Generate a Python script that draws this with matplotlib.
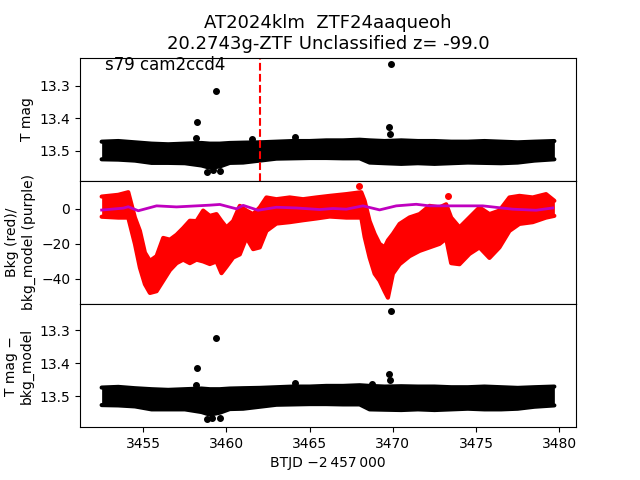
import matplotlib
matplotlib.use("Agg")
import matplotlib.pyplot as plt
import numpy as np

# light curve band (edges), BTJD - 2457000
t_band = [3452.5, 3453.5, 3454.5, 3455.5, 3456.5, 3457.5, 3458.5, 3459.0, 3459.6, 3460.2,
          3461.0, 3462.0, 3463.0, 3464.0, 3465.0, 3466.0, 3467.0, 3468.0, 3468.6, 3469.5,
          3470.5, 3471.5, 3472.5, 3473.5, 3474.5, 3475.5, 3476.5, 3477.5, 3478.5, 3479.7]
mag_hi = [13.472, 13.470, 13.474, 13.478, 13.480, 13.478, 13.476, 13.478, 13.478, 13.476,
          13.475, 13.474, 13.472, 13.470, 13.470, 13.468, 13.468, 13.466, 13.468, 13.470,
          13.468, 13.470, 13.470, 13.472, 13.472, 13.470, 13.472, 13.474, 13.472, 13.470]
mag_lo = [13.526, 13.527, 13.530, 13.537, 13.537, 13.538, 13.545, 13.552, 13.548, 13.537,
          13.536, 13.530, 13.524, 13.523, 13.522, 13.522, 13.523, 13.523, 13.536, 13.538,
          13.540, 13.538, 13.540, 13.538, 13.536, 13.537, 13.538, 13.536, 13.530, 13.526]

# outliers in the top panel
t_out = [3469.88, 3459.38, 3458.24, 3458.14, 3469.78, 3469.82, 3461.56, 3464.14, 3458.82, 3459.20, 3459.60]
mag_out = [13.235, 13.315, 13.411, 13.460, 13.426, 13.448, 13.463, 13.457, 13.564, 13.560, 13.562]

# background-subtracted band
sub_hi = [13.474, 13.472, 13.476, 13.479, 13.481, 13.479, 13.477, 13.479, 13.479, 13.477,
          13.476, 13.475, 13.473, 13.471, 13.471, 13.469, 13.469, 13.467, 13.469, 13.471,
          13.470, 13.471, 13.471, 13.473, 13.473, 13.471, 13.473, 13.475, 13.473, 13.471]
sub_lo = [13.527, 13.528, 13.531, 13.540, 13.540, 13.540, 13.548, 13.556, 13.550, 13.539,
          13.538, 13.532, 13.526, 13.525, 13.524, 13.524, 13.525, 13.525, 13.540, 13.541,
          13.542, 13.540, 13.542, 13.540, 13.538, 13.540, 13.540, 13.538, 13.532, 13.528]
t_sub_out = [3469.90, 3459.38, 3458.24, 3458.14, 3469.78, 3469.82, 3464.14, 3468.75, 3458.82, 3459.15, 3459.60]
sub_out = [13.243, 13.324, 13.416, 13.467, 13.434, 13.452, 13.460, 13.464, 13.570, 13.565, 13.565]

# background flux band
t_bkg = [3452.5, 3453.5, 3454.1, 3454.5, 3454.8, 3455.1, 3455.4, 3455.8, 3456.2, 3456.6,
         3457.0, 3457.4, 3457.8, 3458.2, 3458.6, 3459.0, 3459.4, 3459.7, 3460.0, 3460.4,
         3460.8, 3461.2, 3461.6, 3462.0, 3462.4, 3463.0, 3463.8, 3464.6, 3465.4, 3466.2,
         3467.2, 3468.1, 3468.3, 3468.6, 3468.9, 3469.2, 3469.5, 3469.7, 3470.0, 3470.4,
         3471.0, 3471.6, 3472.2, 3472.8, 3473.2, 3473.5, 3474.0, 3474.6, 3475.2, 3475.8,
         3476.4, 3477.0, 3477.6, 3478.4, 3479.2, 3479.7]
bkg_hi = [7, 8, 9.5, -5, -12.6, -25, -29.7, -27, -16.6, -17.6,
          -14.8, -11, -6.8, -7, -1, -4, -3, -7, -10.6, -7,
          1.7, -1, -3, 0.8, 6.5, 5.5, 6.5, 5.5, 6.5, 7.4,
          8.4, 9.5, 4.6, -7, -14.3, -20, -22, -18, -14.3, -8.6,
          -4.9, -3, 1.7, 0.8, 2.6, -5, -10.6, -4.9, 0.8, -3,
          -1, 6.5, 7.4, 6.5, 8.4, 4.6]
bkg_lo = [-4.5, -5, -5, -20, -33.6, -43, -48, -47, -41, -35,
          -31, -29, -31, -29, -30, -31.5, -30, -36.7, -33, -27.8,
          -26, -16.4, -23, -22, -12.6, -8.4, -7.6, -6.5, -5.5, -4.4,
          -5, -5, -16, -27.8, -37, -41, -47, -50.7, -37, -31.6,
          -27, -24, -22, -20, -17, -31, -31.6, -25.7, -22, -28,
          -22, -12.6, -8.6, -7.6, -5, -4]
t_bkg_out = [3467.95, 3473.3]
bkg_out = [13.1, 7.6]

# background model
t_model = [3452.5, 3453.8, 3454.1, 3454.7, 3455.8, 3457.0, 3459.0, 3459.6, 3460.6, 3461.0,
           3461.9, 3463.0, 3464.2, 3465.6, 3466.4, 3467.2, 3468.2, 3469.2, 3470.2, 3471.4,
           3472.2, 3473.2, 3473.8, 3475.4, 3477.2, 3478.6, 3479.6]
bkg_model = [-0.7, 0.4, 1.2, -1.1, 1.7, 1.1, 2.1, 2.5, 0.0, 2.0,
             -0.8, 0.9, 0.5, -0.4, 0.2, -0.2, 1.7, -0.6, 1.7, 2.6,
             1.7, 1.7, 1.7, 1.7, -0.2, -0.8, 0.5]

t_disc = 3462.0


def band(a, t, hi, lo, c):
    # dense cloud of points drawn as a filled band with rounded edges
    a.fill_between(t, hi, lo, color=c, lw=0)
    a.plot(t, hi, color=c, lw=3, solid_joinstyle='round', solid_capstyle='round')
    a.plot(t, lo, color=c, lw=3, solid_joinstyle='round', solid_capstyle='round')


fig, ax = plt.subplots(3, 1, sharex=True, figsize=(6.4, 4.8))
plt.subplots_adjust(hspace=0)

band(ax[0], t_band, mag_hi, mag_lo, 'k')
ax[0].plot(t_out, mag_out, 'o', color='k', ms=4)
ax[0].axvline(t_disc, color='r', ls='--', lw=1.5)
ax[0].set_ylim(13.592, 13.214)
ax[0].set_yticks([13.3, 13.4, 13.5])
ax[0].set_ylabel("T mag")
ax[0].text(0.05, 0.9, "s79 cam2ccd4", transform=ax[0].transAxes, fontsize=12)
ax[0].set_title("AT2024klm  ZTF24aaqueoh\n20.2743g-ZTF Unclassified z= -99.0", fontsize=13)

band(ax[1], t_bkg, bkg_hi, bkg_lo, 'r')
ax[1].plot(t_bkg_out, bkg_out, 'o', color='r', ms=4)
ax[1].plot(t_model, bkg_model, color='m', lw=2)
ax[1].set_ylim(-54.3, 16)
ax[1].set_ylabel("Bkg (red)/\nbkg_model (purple)")

band(ax[2], t_band, sub_hi, sub_lo, 'k')
ax[2].plot(t_sub_out, sub_out, 'o', color='k', ms=4)
ax[2].set_ylim(13.594, 13.221)
ax[2].set_yticks([13.3, 13.4, 13.5])
ax[2].set_ylabel("T mag \u2212\nbkg_model")
ax[2].set_xlim(3451.2, 3481.0)
ax[2].set_xlabel("BTJD \u22122\u2009457\u2009000")

plt.savefig("out.png", dpi=100)
